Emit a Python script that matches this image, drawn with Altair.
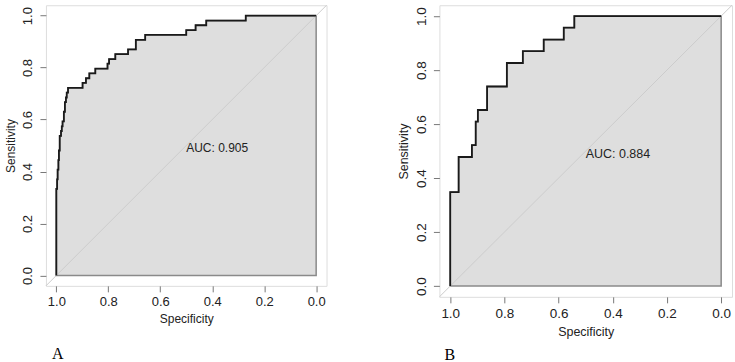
import altair as alt
import pandas as pd

# ROC step points: at each specificity the sensitivity jumps to the given level
a_spec = [1.000, 0.997, 0.995, 0.992, 0.990, 0.987, 0.982, 0.979, 0.976, 0.971, 0.967, 0.963, 0.960, 0.955,
          0.899, 0.886, 0.873, 0.850, 0.803, 0.797, 0.773, 0.724, 0.694, 0.658, 0.500, 0.464, 0.423, 0.271]
a_sens = [0.333, 0.370, 0.407, 0.444, 0.481, 0.537, 0.556, 0.574, 0.593, 0.630, 0.667, 0.685, 0.704, 0.722,
          0.741, 0.759, 0.778, 0.796, 0.815, 0.833, 0.852, 0.870, 0.907, 0.926, 0.944, 0.963, 0.981, 1.000]

b_spec = [1.000, 0.969, 0.920, 0.906, 0.898, 0.864, 0.791, 0.732, 0.655, 0.581, 0.542]
b_sens = [0.348, 0.478, 0.522, 0.609, 0.652, 0.739, 0.826, 0.870, 0.913, 0.957, 1.000]

auc_a = "AUC: 0.905"
auc_b = "AUC: 0.884"
ticks = [1.0, 0.8, 0.6, 0.4, 0.2, 0.0]
diag_spec = [1.04, -0.04]
diag_sens = [-0.04, 1.04]

FONT = "Liberation Sans"


def path(spec, sens):
    # curve starts at (1, 0) and ends at (0, last level); step-after in data order
    s = [1.0] + list(spec) + [0.0]
    v = [0.0] + list(sens) + [sens[-1]]
    return pd.DataFrame({"i": range(len(s)), "spec": s, "sens": v})


def panel(spec, sens, auc, caption, w, h, fs_tick, fs_title, cap_offset, cap_dx):
    df = path(spec, sens)
    xs = alt.Scale(domain=[1.04, -0.04], nice=False, zero=False)
    ys = alt.Scale(domain=[-0.04, 1.04], nice=False, zero=False)
    xax = alt.Axis(values=ticks, format=".1f", title="Specificity", domain=False, grid=False,
                   tickSize=6, tickColor="#777777", labelFontSize=fs_tick, labelFont=FONT,
                   labelColor="#222222", labelPadding=4, titleFont=FONT, titleFontSize=fs_title,
                   titleFontWeight="normal", titleColor="#222222", titlePadding=5, labelFlush=False)
    yax = alt.Axis(values=ticks, format=".1f", title="Sensitivity", domain=False, grid=False,
                   tickSize=6, tickColor="#777777", labelFontSize=fs_tick, labelFont=FONT,
                   labelColor="#222222", labelAngle=270, labelPadding=5, titleFont=FONT,
                   titleFontSize=fs_title, titleFontWeight="normal", titleColor="#222222",
                   titlePadding=4, labelFlush=False)
    base = alt.Chart(df)
    area = base.mark_area(fill="#dedede", stroke="#8a8a8a", strokeWidth=1.5,
                          interpolate="step-after").encode(
        x=alt.X("spec:Q", scale=xs, axis=xax),
        y=alt.Y("sens:Q", scale=ys, axis=yax),
        y2=alt.datum(0),
    )
    ddf = pd.DataFrame({"spec": diag_spec, "sens": diag_sens})
    diag = alt.Chart(ddf).mark_line(color="#cccccc", strokeWidth=1).encode(
        x=alt.X("spec:Q", scale=xs), y=alt.Y("sens:Q", scale=ys))
    line = base.mark_line(color="#1a1a1a", strokeWidth=1.8, interpolate="step-after").encode(
        x=alt.X("spec:Q", scale=xs), y=alt.Y("sens:Q", scale=ys), order="i:Q")
    tdf = pd.DataFrame({"spec": [0.5], "sens": [0.5], "t": [auc]})
    txt = alt.Chart(tdf).mark_text(align="left", baseline="top", font=FONT, fontSize=fs_title,
                                   color="#222222", dy=-3).encode(
        x=alt.X("spec:Q", scale=xs), y=alt.Y("sens:Q", scale=ys), text="t:N")
    return alt.layer(area, diag, line, txt).properties(
        width=w, height=h,
        title=alt.TitleParams(caption, orient="bottom", anchor="start", frame="group",
                              font="Liberation Serif", fontSize=16, fontWeight="normal",
                              color="#000000", offset=cap_offset, dx=cap_dx),
    )


pa = panel(a_spec, a_sens, auc_a, "A", 281, 281, 13, 12, 21, 6)
pb = panel(b_spec, b_sens, auc_b, "B", 293, 292, 13.5, 12.5, 9, 5)

chart = alt.hconcat(pa, pb, spacing=67).properties(
    padding={"left": 4, "top": 2, "right": 0, "bottom": 0}
).configure_view(stroke="#8c8c8c", strokeWidth=1).configure(background="white")

chart.save("out.html", embed_options={"renderer": "svg", "actions": False})
